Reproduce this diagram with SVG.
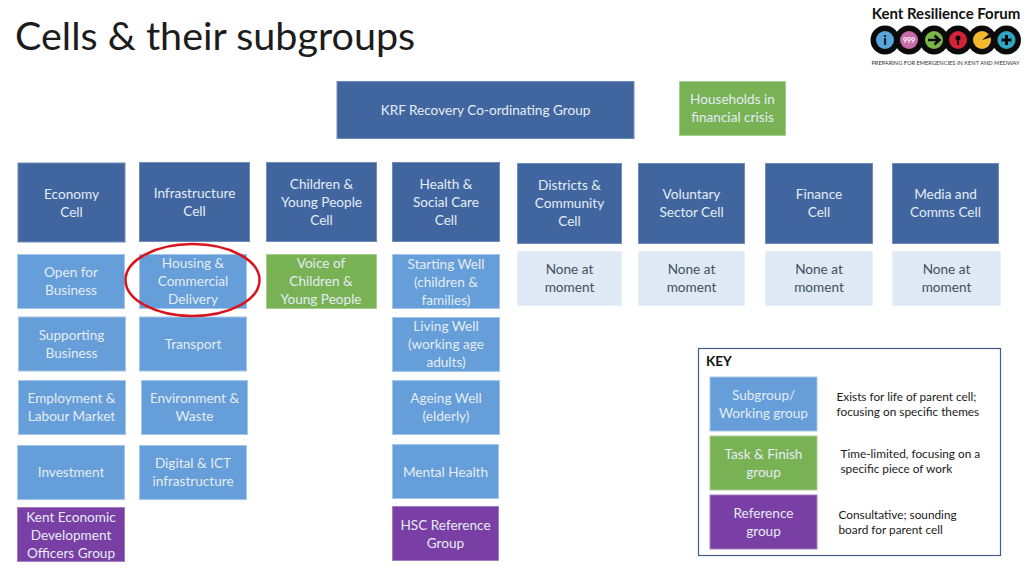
<svg xmlns="http://www.w3.org/2000/svg" width="1024" height="576" viewBox="0 0 1024 576">
<style>
text{font-family:Lato,"Open Sans",sans-serif;}
.n text{font-size:13.6px;fill:#e4ecf6;text-anchor:middle;}
.d rect{fill:#41669f;stroke:#6f8db8;stroke-width:1;}
.l rect{fill:#659ed8;stroke:#a5c6e8;stroke-width:1;}
.g rect{fill:#79b254;stroke:#a9cf90;stroke-width:1;}
.p rect{fill:#7a3fa4;stroke:#a37fc0;stroke-width:1;}
.e rect{fill:#dfe9f5;stroke:#e8eff8;stroke-width:1;}
.e text{fill:#3f4f60;}
.k{font-size:11.800px;fill:#1a1a1a;}
</style>
<rect width="1024" height="576" fill="#fff"/>
<text x="15" y="50" font-size="39.500" fill="#1c1c1c">Cells &amp; their subgroups</text>
<g id="logo">
<text x="946" y="19" font-size="15" font-weight="700" text-anchor="middle" fill="#111">Kent Resilience Forum</text>
<g fill="#0a0a0a"><circle cx="885" cy="40" r="14.500"/><circle cx="909" cy="40" r="14.500"/><circle cx="934" cy="40" r="14.500"/><circle cx="958" cy="40" r="14.500"/><circle cx="982" cy="40" r="14.500"/><circle cx="1006.500" cy="40" r="14.500"/></g>
<circle cx="885" cy="40" r="9" fill="#5aa5dc"/><circle cx="909" cy="40" r="9" fill="#c76aa8"/><circle cx="934" cy="40" r="9" fill="#7ab648"/><circle cx="958" cy="40" r="9" fill="#d3213c"/><circle cx="982" cy="40" r="9" fill="#f3b92c"/><circle cx="1006.500" cy="40" r="9" fill="#2fa7c4"/>
<text x="885" y="45" font-size="14" font-weight="700" text-anchor="middle" fill="#0a0a0a">i</text>
<text x="909" y="43" font-size="7" font-weight="700" text-anchor="middle" fill="#fff">999</text>
<path d="M928 40h10M934.500 35.500l5 4.500l-5 4.500" fill="none" stroke="#0a0a0a" stroke-width="2.500"/>
<circle cx="958" cy="38" r="2.500" fill="#0a0a0a"/><rect x="957" y="39" width="2" height="6" fill="#0a0a0a"/>
<path d="M982 40l7-6l3 3z" fill="#0a0a0a"/>
<path d="M1006.500 35v10M1001.500 40h10" stroke="#0a0a0a" stroke-width="3"/>
<text x="945.500" y="64.500" font-size="5.700" text-anchor="middle" fill="#333">PREPARING FOR EMERGENCIES IN KENT AND MEDWAY</text>
</g>
<g id="connectors"></g>
<g id="krf" class="n d"><rect x="337" y="81.500" width="297" height="57"/><text x="485.500" y="115">KRF Recovery Co-ordinating Group</text></g>
<g id="households" class="n g"><rect x="679.500" y="81.500" width="106" height="54"/><text x="732.500" y="104">Households in</text><text x="732.500" y="122">financial crisis</text></g>

<g id="economy" class="n d"><rect x="18" y="163" width="107" height="79"/><text x="71.500" y="199">Economy</text><text x="71.500" y="217">Cell</text></g>
<g id="infrastructure" class="n d"><rect x="139.500" y="162.500" width="110" height="79"/><text x="194.500" y="198">Infrastructure</text><text x="194.500" y="216">Cell</text></g>
<g id="children" class="n d"><rect x="266.500" y="162.500" width="110" height="79"/><text x="321.500" y="189">Children &amp;</text><text x="321.500" y="207">Young People</text><text x="321.500" y="225">Cell</text></g>
<g id="health" class="n d"><rect x="392.500" y="162.500" width="107" height="79"/><text x="446" y="189">Health &amp;</text><text x="446" y="207">Social Care</text><text x="446" y="225">Cell</text></g>
<g id="districts" class="n d"><rect x="517.500" y="163.500" width="104" height="80"/><text x="569.500" y="190">Districts &amp;</text><text x="569.500" y="208">Community</text><text x="569.500" y="226">Cell</text></g>
<g id="voluntary" class="n d"><rect x="638.500" y="163.500" width="106" height="80"/><text x="691.500" y="199">Voluntary</text><text x="691.500" y="217">Sector Cell</text></g>
<g id="finance" class="n d"><rect x="765.500" y="163.500" width="107" height="80"/><text x="819" y="199">Finance</text><text x="819" y="217">Cell</text></g>
<g id="media" class="n d"><rect x="892.500" y="163.500" width="106" height="80"/><text x="945.500" y="199">Media and</text><text x="945.500" y="217">Comms Cell</text></g>

<g id="open" class="n l"><rect x="17.500" y="254.500" width="107" height="54"/><text x="71" y="277">Open for</text><text x="71" y="295">Business</text></g>
<g id="housing" class="n l"><rect x="139.500" y="254.500" width="107" height="54"/><text x="193" y="268">Housing &amp;</text><text x="193" y="286">Commercial</text><text x="193" y="304">Delivery</text></g>
<g id="voice" class="n g"><rect x="266.500" y="254.500" width="110" height="54"/><text x="321" y="268">Voice of</text><text x="321" y="286">Children &amp;</text><text x="321" y="304">Young People</text></g>
<g id="starting" class="n l"><rect x="392.500" y="254.500" width="107" height="54"/><text x="446" y="269">Starting Well</text><text x="446" y="287">(children &amp;</text><text x="446" y="305">families)</text></g>
<g id="none1" class="n e"><rect x="517.500" y="251.500" width="104" height="54"/><text x="569.500" y="274">None at</text><text x="569.500" y="292">moment</text></g>
<g id="none2" class="n e"><rect x="638.500" y="251.500" width="106" height="54"/><text x="691.500" y="274">None at</text><text x="691.500" y="292">moment</text></g>
<g id="none3" class="n e"><rect x="765.500" y="251.500" width="107" height="54"/><text x="819" y="274">None at</text><text x="819" y="292">moment</text></g>
<g id="none4" class="n e"><rect x="892.500" y="251.500" width="108" height="54"/><text x="946.500" y="274">None at</text><text x="946.500" y="292">moment</text></g>

<g id="supporting" class="n l"><rect x="18.500" y="317" width="107" height="54"/><text x="71.500" y="340">Supporting</text><text x="71.500" y="358">Business</text></g>
<g id="transport" class="n l"><rect x="139.500" y="317" width="107" height="54"/><text x="193" y="349">Transport</text></g>
<g id="living" class="n l"><rect x="392.500" y="317.500" width="107" height="54"/><text x="446" y="331">Living Well</text><text x="446" y="349">(working age</text><text x="446" y="367">adults)</text></g>

<g id="employment" class="n l"><rect x="18.500" y="380.500" width="107" height="54"/><text x="71.500" y="403">Employment &amp;</text><text x="71.500" y="421">Labour Market</text></g>
<g id="environment" class="n l"><rect x="141.500" y="380.500" width="106" height="54"/><text x="194.500" y="403">Environment &amp;</text><text x="194.500" y="421">Waste</text></g>
<g id="ageing" class="n l"><rect x="392.500" y="380.500" width="107" height="54"/><text x="446" y="403">Ageing Well</text><text x="446" y="421">(elderly)</text></g>

<g id="investment" class="n l"><rect x="17.500" y="445.500" width="107" height="54"/><text x="71" y="477">Investment</text></g>
<g id="digital" class="n l"><rect x="139.500" y="445.500" width="107" height="54"/><text x="193" y="468">Digital &amp; ICT</text><text x="193" y="486">infrastructure</text></g>
<g id="mental" class="n l"><rect x="392.500" y="444.500" width="106" height="54"/><text x="445.500" y="477">Mental Health</text></g>

<g id="keco" class="n p"><rect x="17.500" y="507.500" width="107" height="54"/><text x="71" y="522">Kent Economic</text><text x="71" y="540">Development</text><text x="71" y="558">Officers Group</text></g>
<g id="hsc" class="n p"><rect x="392.500" y="506.500" width="106" height="54"/><text x="445.500" y="530">HSC Reference</text><text x="445.500" y="548">Group</text></g>

<ellipse id="highlight" cx="192.500" cy="280" rx="67" ry="36" fill="none" stroke="#d9141e" stroke-width="2.500"/>

<g id="key">
<rect x="698.500" y="348.500" width="302" height="207" fill="#fff" stroke="#3f5f88" stroke-width="1.200"/>
<text x="706" y="366" font-size="13.500" font-weight="700" fill="#111">KEY</text>
<g id="key-sub" class="n l"><rect x="710" y="377" width="107" height="54"/><text x="763.500" y="400">Subgroup/</text><text x="763.500" y="418">Working group</text></g>
<g id="key-task" class="n g"><rect x="710" y="436" width="107" height="54"/><text x="763.500" y="459">Task &amp; Finish</text><text x="763.500" y="477">group</text></g>
<g id="key-ref" class="n p"><rect x="710" y="495" width="107" height="54"/><text x="763.500" y="518">Reference</text><text x="763.500" y="536">group</text></g>
<text class="k" x="836.500" y="401">Exists for life of parent cell;</text><text class="k" x="836.500" y="416">focusing on specific themes</text>
<text class="k" x="840.500" y="458">Time-limited, focusing on a</text><text class="k" x="840.500" y="473">specific piece of work</text>
<text class="k" x="838.500" y="519">Consultative; sounding</text><text class="k" x="838.500" y="534">board for parent cell</text>
</g>
</svg>
